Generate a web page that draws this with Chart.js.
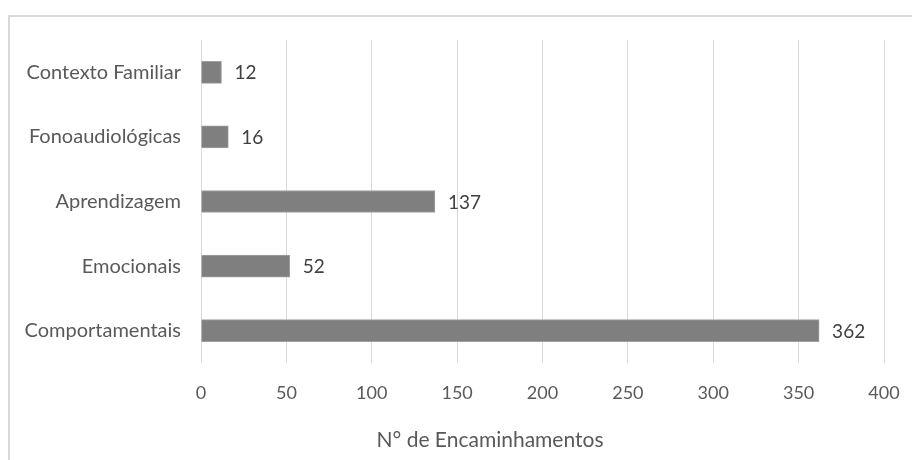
<!DOCTYPE html>
<html lang="pt">
<head>
  <meta charset="UTF-8">
  <title>N° de Encaminhamentos</title>
  <script src="https://cdn.jsdelivr.net/npm/chart.js"></script>
  <style>
    body {
      margin: 0;
      padding: 0;
      background: #ffffff;
    }
    .chart-wrap {
      position: relative;
      width: 912px;
      height: 460px;
    }
    /* moldura do gráfico (só topo e esquerda aparecem) */
    .chart-frame {
      position: absolute;
      left: 8px;
      top: 15px;
      right: 0;
      bottom: 0;
      border-top: 2px solid #d9d9d9;
      border-left: 2px solid #d9d9d9;
      pointer-events: none;
    }
  </style>
</head>
<body>
  <div class="chart-wrap">
    <canvas id="encaminhamentosChart" width="912" height="460"></canvas>
    <div class="chart-frame"></div>
  </div>

  <script>
    // Dados
    const categorias = ['Contexto Familiar', 'Fonoaudiológicas', 'Aprendizagem', 'Emocionais', 'Comportamentais'];
    const encaminhamentos = [12, 16, 137, 52, 362];
    const ticksEixoX = [0, 50, 100, 150, 200, 250, 300, 350, 400];
    const tituloEixoX = 'N° de Encaminhamentos';

    const fonte = 'Lato, "Open Sans", sans-serif';
    const corTexto = '#595959';

    // Rótulos de valor à direita de cada barra
    const rotulosValor = {
      id: 'rotulosValor',
      afterDatasetsDraw(chart) {
        const ctx = chart.ctx;
        const meta = chart.getDatasetMeta(0);
        ctx.save();
        ctx.font = '19px ' + fonte;
        ctx.fillStyle = '#404040';
        ctx.textAlign = 'left';
        ctx.textBaseline = 'middle';
        meta.data.forEach((bar, i) => {
          ctx.fillText(String(encaminhamentos[i]), bar.x + 13, bar.y + 1);
        });
        ctx.restore();
      }
    };

    // Título do eixo X
    const tituloEixo = {
      id: 'tituloEixo',
      afterDraw(chart) {
        const ctx = chart.ctx;
        ctx.save();
        ctx.font = '21px ' + fonte;
        ctx.fillStyle = corTexto;
        ctx.textAlign = 'center';
        ctx.textBaseline = 'middle';
        ctx.fillText(tituloEixoX, 490, 440);
        ctx.restore();
      }
    };

    const ctx = document.getElementById('encaminhamentosChart').getContext('2d');
    new Chart(ctx, {
      type: 'bar',
      data: {
        labels: categorias,
        datasets: [{
          data: encaminhamentos,
          backgroundColor: '#7f7f7f',
          borderColor: '#a0a0a0',
          borderWidth: 1,
          barThickness: 22
        }]
      },
      options: {
        indexAxis: 'y',
        responsive: false,
        animation: false,
        layout: {
          padding: { top: 40, right: 28, bottom: 0, left: 0 }
        },
        plugins: {
          legend: { display: false },
          tooltip: { enabled: false }
        },
        scales: {
          x: {
            min: 0,
            max: 400,
            afterBuildTicks(scale) {
              scale.ticks = ticksEixoX.map(v => ({ value: v }));
            },
            afterFit(scale) {
              scale.height = 97;
              // a margem direita fica só por conta do layout
              scale.paddingLeft = 0;
              scale.paddingRight = 0;
            },
            grid: {
              color: '#d9d9d9',
              lineWidth: 1,
              drawTicks: false
            },
            border: { display: false },
            ticks: {
              color: corTexto,
              padding: 19,
              maxRotation: 0,
              font: { family: fonte, size: 18 }
            }
          },
          y: {
            afterFit(scale) {
              scale.width = 201;
            },
            grid: { display: false, drawTicks: false },
            border: { display: false },
            ticks: {
              color: corTexto,
              padding: 20,
              font: { family: fonte, size: 20 }
            }
          }
        }
      },
      plugins: [rotulosValor, tituloEixo]
    });
  </script>
</body>
</html>
